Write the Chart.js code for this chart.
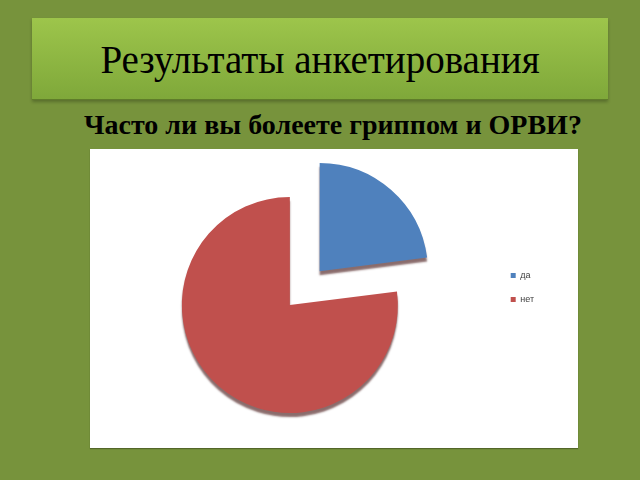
<!DOCTYPE html>
<html>
<head>
<meta charset="utf-8">
<script src="https://cdn.jsdelivr.net/npm/chart.js@4.4.4/dist/chart.umd.min.js"></script>
<style>
  html, body { margin: 0; padding: 0; }
  body { width: 640px; height: 480px; background: #77933c; position: relative; overflow: hidden; }
  .banner {
    position: absolute; left: 32px; top: 18px; width: 576px; height: 81px;
    background: linear-gradient(#9dc54b, #7fa83a);
    border-bottom: 1px solid #5f7d2a;
    box-shadow: 0 2px 3px rgba(0,0,0,0.25);
  }
  .title {
    position: absolute; left: 0; top: 40px; width: 640px; text-align: center;
    font-family: "Liberation Serif", serif; font-size: 39px; line-height: 39px; color: #000;
  }
  .subtitle {
    position: absolute; left: 84px; top: 111px; white-space: nowrap;
    font-family: "Liberation Serif", serif; font-weight: bold; font-size: 28px; line-height: 28px; color: #000;
  }
  .plot { position: absolute; left: 90px; top: 149px; width: 488px; height: 299px; background: #fff;
    box-shadow: 0 1px 1px rgba(0,0,0,0.3); }
  #chart { position: absolute; left: 80px; top: 149px; }
</style>
</head>
<body>
<div class="banner"></div>
<div class="title">Результаты анкетирования</div>
<div class="subtitle">Часто ли вы болеете гриппом и ОРВИ?</div>
<div class="plot"></div>
<canvas id="chart" width="498" height="299"></canvas>
<script>
const categories = ["да", "нет"]
const shares = [23, 77]
const sliceColors = ["#4f81bd", "#c0504d"]
// only the "да" slice is pulled out (chart.js moves a slice by offset / 4)
const sliceOffsets = [180, 0]

// darker edge under the slices, gives the old office 3d look
const edgeShadow = {
    id: "edgeShadow",
    beforeDatasetsDraw(chart) {
        const ctx = chart.ctx
        ctx.save()
        ctx.shadowColor = "rgba(60, 10, 10, 0.6)"
        ctx.shadowOffsetY = 4
        ctx.shadowBlur = 2
    },
    afterDatasetsDraw(chart) {
        chart.ctx.restore()
    }
}

new Chart(document.getElementById("chart"), {
    type: "pie",
    data: {
        labels: categories,
        datasets: [{
            data: shares,
            backgroundColor: sliceColors,
            borderWidth: 0,
            offset: sliceOffsets,
            radius: 108,
            clip: false
        }]
    },
    options: {
        responsive: false,
        animation: false,
        cutout: "0%",  // string, so a small chart area does not give NaN
        layout: { padding: { left: 4, right: 34, top: 107, bottom: 94 } },
        plugins: {
            tooltip: { enabled: false },
            legend: {
                position: "right",
                align: "start",
                labels: {
                    boxWidth: 5,
                    boxHeight: 5,
                    padding: 15,
                    color: "#404040",
                    font: { family: "Liberation Sans", size: 9 }
                }
            }
        }
    },
    plugins: [edgeShadow]
})
</script>
</body>
</html>
